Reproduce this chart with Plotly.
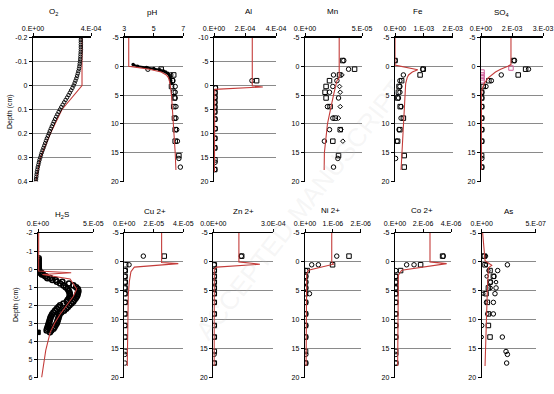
import plotly.graph_objects as go

W, H = 554, 394

# ---------------- data ----------------
# common sampling depths (cm) of the porewater samples
sq_depth = [-1, 0.5, 1.5, 2.5, 3.5, 4.5, 5.5, 7, 9, 11, 13, 15.5, 17.5]
ci_depth = [-1, 0.5, 1.5, 2.5, 3.5, 4.5, 5.5, 7, 9, 11, 13, 16, 17.5]

# O2 microprofile (x 1e-4)
o2_depth = [-0.20, -0.19, -0.18, -0.17, -0.16, -0.15, -0.14, -0.13, -0.12, -0.11,
            -0.10, -0.09, -0.08, -0.07, -0.06, -0.05, -0.04, -0.03, -0.02, -0.01,
            0.00, 0.01, 0.02, 0.03, 0.04, 0.05, 0.06, 0.07, 0.08, 0.09,
            0.10, 0.11, 0.12, 0.13, 0.14, 0.15, 0.16, 0.17, 0.18, 0.19,
            0.20, 0.21, 0.22, 0.23, 0.24, 0.25, 0.26, 0.27, 0.28, 0.29,
            0.30, 0.31, 0.32, 0.33, 0.34, 0.35, 0.36, 0.37, 0.38, 0.39, 0.40]
o2_obs = [3.30, 3.30, 3.30, 3.30, 3.30, 3.30, 3.29, 3.28, 3.27, 3.26,
          3.24, 3.22, 3.20, 3.17, 3.13, 3.09, 3.04, 2.99, 2.93, 2.87,
          2.80, 2.72, 2.63, 2.54, 2.45, 2.35, 2.25, 2.15, 2.05, 1.95,
          1.86, 1.77, 1.68, 1.60, 1.52, 1.44, 1.37, 1.30, 1.23, 1.16,
          1.10, 1.03, 0.96, 0.90, 0.84, 0.78, 0.72, 0.66, 0.60, 0.55,
          0.50, 0.45, 0.41, 0.37, 0.33, 0.30, 0.27, 0.25, 0.23, 0.21, 0.20]
o2_mod_d = [-0.2, -0.1, 0.0, 0.1, 0.2, 0.3, 0.4]
o2_mod = [3.38, 3.38, 3.38, 2.0, 1.2, 0.52, 0.2]

# pH
ph_micro_d = [-0.3, 0.0, 0.2, 0.4, 0.6, 0.8, 1.0, 1.2, 1.5, 2.0, 2.5, 3.0]
ph_micro = [3.6, 3.9, 4.5, 5.0, 5.4, 5.65, 5.8, 5.95, 6.05, 6.1, 6.15, 6.2]
ph_sq_d = [0.5, 1.5, 2.5, 3.5, 4.5, 5.5, 7, 9, 11, 13, 15.5]
ph_sq = [5.5, 6.35, 6.25, 6.2, 6.35, 6.4, 6.35, 6.4, 6.45, 6.45, 6.7]
ph_ci_d = [0.5, 1.5, 2.5, 3.5, 4.5, 5.5, 7, 9, 11, 13, 16, 17.5]
ph_ci = [4.6, 6.15, 6.3, 6.45, 6.45, 6.45, 6.5, 6.5, 6.55, 6.6, 6.7, 6.8]
ph_mod_d = [-5, 0, 0.05, 0.5, 1, 1.5, 2, 3, 5, 10, 15, 18]
ph_mod = [3.3, 3.3, 3.5, 4.7, 5.5, 5.85, 6.0, 6.1, 6.2, 6.35, 6.45, 6.5]

# Al (x 1e-4)
al_sq = [2.75, 0.08, 0.06, 0.06, 0.05, 0.05, 0.05, 0.05, 0.06, 0.05, 0.05, 0.06, 0.05]
al_ci = [2.45, 0.10, 0.07, 0.06, 0.06, 0.06, 0.05, 0.07, 0.08, 0.06, 0.06, 0.07, 0.05]
al_mod_d = [-10, 0.1, 0.3, 0.8, 18]
al_mod = [2.47, 2.47, 3.15, 0.05, 0.03]

# Mn (x 1e-5)
mn_sq = [3.3, 4.35, 3.03, 2.15, 1.85, 1.76, 1.85, 2.2, 2.65, 3.09, 2.44, 2.94, None]
mn_ci = [3.4, 3.82, 2.5, 2.8, 2.44, 2.15, 2.94, 1.97, 2.44, 2.15, 1.7, 2.88, 2.5]
mn_dm_d = [1.5, 3.5, 4.5, 7, 9, 11, 13]
mn_dm = [3.24, 3.03, 3.09, 3.09, 2.94, 3.15, 3.32]
mn_mod_d = [-5, 2, 2.5, 5, 10, 15, 18]
mn_mod = [3.0, 3.0, 2.8, 2.5, 1.97, 1.7, 1.68]

# Fe (x 1e-3)
fe_sq = [0.0, 0.98, 0.87, 0.23, 0.14, 0.12, 0.09, 0.18, 0.29, 0.17, 0.09, 0.32, 0.32]
fe_ci = [0.0, 0.96, 0.29, 0.17, 0.17, 0.17, 0.12, 0.21, 0.21, 0.14, 0.07, 0.02, None]
fe_mod_d = [-5, -0.2, 0.6, 1.0, 1.5, 2.0, 3.0, 5.0, 10, 15, 18]
fe_mod = [0.0, 0.0, 0.79, 0.6, 0.47, 0.42, 0.37, 0.35, 0.29, 0.23, 0.21]

# SO4 (x 1e-3)
so4_sq = [1.58, 2.16, 1.8, 0.38, 0.11, 0.03, 0.03, 0.03, 0.03, 0.03, 0.03, 0.03, 0.03]
so4_ci = [1.62, 2.3, 0.98, 0.5, 0.24, 0.04, 0.04, 0.04, 0.04, 0.04, 0.04, 0.04, 0.04]
so4_pink_d = [0.3, 1.0, 1.5, 2.0, 2.5]
so4_pink = [1.45, 0.05, 0.05, 0.05, 0.05]
so4_mod_d = [-5, -0.3, 0.0, 0.5, 1.0, 1.5, 2.0, 2.5, 3.0, 3.5, 4.0, 5.0, 18]
so4_mod = [1.45, 1.45, 1.3, 0.95, 0.7, 0.5, 0.35, 0.25, 0.15, 0.1, 0.05, 0.02, 0.02]

# H2S (x 1e-5)
h2s_a_d = [-0.6, -0.5, -0.4, -0.3, -0.2, -0.1, 0.0, 0.1, 0.2, 0.3, 0.4, 0.5, 0.6, 0.7,
           0.8, 0.9, 1.0, 1.1, 1.2, 1.3, 1.4, 1.5, 1.6, 1.7, 1.8, 1.9, 2.0, 2.1,
           2.2, 2.3, 2.4, 2.5, 2.6, 2.7, 2.8, 2.9, 3.0, 3.1, 3.2, 3.3, 3.4, 3.5]
h2s_a = [0.06, 0.06, 0.06, 0.06, 0.06, 0.07, 0.08, 0.1, 0.2, 0.35, 0.7, 1.1, 1.6, 2.2,
         2.8, 3.2, 3.45, 3.6, 3.65, 3.62, 3.58, 3.52, 3.42, 3.3, 3.18, 3.02, 2.85, 2.7,
         2.55, 2.35, 2.1, 1.95, 1.9, 1.85, 1.8, 1.75, 1.7, 1.6, 1.5, 1.4, 1.2, 1.08]
h2s_b_d = [0.2, 0.3, 0.4, 0.5, 0.6, 0.7, 0.8, 0.9, 1.0, 1.1, 1.2, 1.3, 1.4, 1.5, 1.6,
           1.7, 1.8, 1.9, 2.0, 2.1, 2.2, 2.3, 2.4, 2.5, 2.6, 2.7, 2.8, 2.9, 3.0, 3.1,
           3.2, 3.3, 3.4]
h2s_b = [0.3, 0.45, 0.65, 0.85, 1.3, 1.7, 2.0, 2.3, 2.5, 2.68, 2.78, 2.85, 2.88, 2.88, 2.82,
         2.7, 2.6, 2.3, 2.0, 1.85, 1.7, 1.55, 1.4, 1.28, 1.2, 1.12, 1.08, 1.03, 0.98, 0.93,
         0.88, 0.82, 0.78]
h2s_sq_d = [3.5]
h2s_sq = [0.0]
h2s_mod_d = [-2, 0.1, 0.2, 0.3, 0.55, 0.8, 1.1, 1.5, 2.0, 2.5, 3.0, 3.5, 4.5, 6.0]
h2s_mod = [0.06, 0.06, 3.0, 0.4, 2.9, 3.2, 3.5, 3.2, 2.6, 2.0, 1.5, 1.1, 0.7, 0.33]

# Cu (x 1e-5)
cu_sq = [2.71, 0.09, 0.06, 0.05, 0.06, 0.05, 0.05, 0.06, 0.05, 0.05, 0.06, 0.05, None]
cu_ci = [1.29, 0.32, 0.04, 0.04, 0.05, 0.04, 0.04, 0.05, 0.04, 0.04, 0.05, 0.04, 0.04]
cu_mod_d = [-5, 0.1, 0.3, 0.9, 1.7, 3.4, 5.7, 11.5, 18]
cu_mod = [2.53, 2.53, 3.66, 0.68, 0.45, 0.34, 0.27, 0.23, 0.2]

# Zn (x 1e-4)
zn_sq = [1.42, 0.05, 0.05, 0.05, 0.05, 0.05, 0.05, 0.05, 0.05, 0.05, 0.05, 0.05, 0.05]
zn_ci = [1.40, 0.04, 0.04, 0.04, 0.04, 0.04, 0.04, 0.04, 0.04, 0.04, 0.04, 0.04, 0.04]
zn_mod_d = [-5, 0, 0.4, 0.9, 1.2, 18]
zn_mod = [1.28, 1.28, 2.33, 0.17, 0.05, 0.04]

# Ni (x 1e-6)
ni_sq = [1.58, 0.99, 0.08, 0.02, 0.02, 0.02, 0.02, 0.02, 0.02, 0.02, 0.02, 0.02, 0.02]
ni_ci_d = [-1, 0.5, 0.5, 1.5, 2.5, 3.5, 4.5, 5.5, 7, 9, 11, 13, 16, 17.5]
ni_ci = [1.14, 0.24, 0.48, 0.03, 0.03, 0.03, 0.03, 0.16, 0.03, 0.03, 0.03, 0.03, 0.03, 0.03]
ni_mod_d = [-5, 0, 0.4, 1.45, 2.1, 18]
ni_mod = [0.96, 0.96, 1.02, 0.12, 0.06, 0.04]

# Co (x 1e-6)
co_sq = [3.4, 1.83, 0.4, 0.05, 0.05, 0.05, 0.05, 0.05, 0.05, 0.05, 0.05, 0.05, 0.05]
co_ci_d = [-1, 0.5, 0.5, 1.5, 2.5, 3.5, 4.5, 5.5, 7, 9, 11, 13, 16, 17.5]
co_ci = [3.45, 0.83, 1.36, 0.06, 0.06, 0.06, 0.06, 0.06, 0.06, 0.06, 0.06, 0.06, 0.06, 0.06]
co_mod_d = [-5, 0, 0.3, 1.45, 2.3, 18]
co_mod = [2.5, 2.5, 3.69, 0.48, 0.24, 0.19]

# As (x 1e-7)
as_sq_d = [-1, 0.5, 1.5, 2.5, 3.5, 4.5, 5.5, 7, 9, 11, 13]
as_sq = [0.25, 0.31, 0.77, 1.08, 0.77, 0.62, 0.4, 0.52, 0.62, 0.62, 0.77]
as_ci_d = [-1, 0.5, 1.5, 2.5, 3.5, 4.5, 5.5, 7, 9, 11, 13, 15.5, 16, 17.5]
as_ci = [0.15, 2.38, 1.48, 1.14, 0.83, 1.33, 1.23, 1.08, 1.08, 0.0, 1.91, 2.25, 2.38, 2.31]
as_dm_d = [-1, 0.5, 1.5, 2.5, 3.5, 4.5, 5.5, 7, 9, 13]
as_dm = [0.4, 0.4, 0.62, 0.46, 1.33, 0.83, 0.15, 0.4, 0.52, 0.0]
as_mod_d = [-5, -0.2, 0.6, 1.0, 5, 10, 18]
as_mod = [0.09, 0.31, 0.93, 0.62, 0.52, 0.42, 0.31]

# titles and tick labels
titles = ["O<sub>2</sub>", "pH", "Al", "Mn", "Fe", "SO<sub>4</sub>",
          "H<sub>2</sub>S", "Cu 2+", "Zn 2+", "Ni 2+", "Co 2+", "As"]
x_tickvals = [[0, 4e-4], [3, 5, 7], [0, 2e-4, 4e-4], [0, 5e-5], [0, 1e-3, 2e-3],
              [0, 1.5e-3, 3e-3], [0, 5e-5], [0, 2e-5, 4e-5], [0, 3e-4],
              [0, 1e-6, 2e-6], [0, 2e-6, 4e-6], [0, 5e-7]]
x_ticktext = [["0.E+00", "4.E-04"], ["3", "5", "7"], ["0.E+00", "2.E-04", "4.E-04"],
              ["0.E+00", "5.E-05"], ["0.E+00", "1.E-03", "2.E-03"],
              ["0.E+00", "2.E-03", "3.E-03"], ["0.E+00", "5.E-05"],
              ["0.E+00", "2.E-05", "4.E-05"], ["0.0E+00", "3.0E-04"],
              ["0.E+00", "1.E-06", "2.E-06"], ["0.E+00", "2.E-06", "4.E-06"],
              ["0.E+00", "5.E-07"]]
depth_ticks_std = [-5, 0, 5, 10, 15, 20]
depth_ticks_al = [-10, -5, 0, 5, 10, 15, 20]
depth_ticks_o2 = [-0.2, -0.1, 0, 0.1, 0.2, 0.3, 0.4]
depth_text_o2 = ["-0.2", "-0.1", "0", "0.1", "0.2", "0.3", "0.4"]
depth_ticks_h2s = [-2, -1, 0, 1, 2, 3, 4, 5, 6]

# ---------------- layout geometry (pixels) ----------------
R1 = (37.5, 181.5)
R2 = (233.0, 377.5)
geom = [(33, 91) + R1, (124.3, 183.3) + R1, (214, 276) + R1, (305, 362) + R1,
        (395, 452.7) + R1, (481, 543) + R1,
        (38, 93.3) + R2, (124.3, 183.3) + R2, (213.3, 273.3) + R2, (305, 360.7) + R2,
        (395, 451) + R2, (481.7, 535.7) + R2]
title_pos = [(53, 12), (152, 12.5), (248, 12), (332, 11), (418, 12), (501, 13.5),
             (62, 215.5), (155, 211), (243, 211.5), (330, 210), (422, 210), (508, 211)]

x_ranges = [[0, 4e-4], [3, 7], [0, 4e-4], [0, 5e-5], [0, 2e-3], [0, 3e-3],
            [0, 5e-5], [0, 4e-5], [0, 3e-4], [0, 2e-6], [0, 4e-6], [0, 5e-7]]

FONT = "Liberation Sans, Arial, sans-serif"
RED = "#c43c3a"
TXT = "#000000"


def blk(s):
    return f"<span style='color:#000000'>{s}</span>"


fig = go.Figure()
layout = dict(width=W, height=H, margin=dict(l=0, r=0, t=0, b=0), template="none",
              paper_bgcolor="white", plot_bgcolor="white", showlegend=False,
              font=dict(family=FONT, size=7, color=TXT))
annotations = []

for i in range(12):
    n = i + 1
    x0, x1, top, bot = geom[i]
    xk = "xaxis" if n == 1 else f"xaxis{n}"
    yk = "yaxis" if n == 1 else f"yaxis{n}"
    if i == 0:
        yt, ytt, yr = depth_ticks_o2, depth_text_o2, [0.4, -0.2]
    elif i == 2:
        yt, ytt, yr = depth_ticks_al, [str(v) for v in depth_ticks_al], [20, -10]
    elif i == 6:
        yt, ytt, yr = depth_ticks_h2s, [str(v) for v in depth_ticks_h2s], [6, -2]
    else:
        yt, ytt, yr = depth_ticks_std, [str(v) for v in depth_ticks_std], [20, -5]
    layout[xk] = dict(domain=[x0 / W, x1 / W], anchor=f"y{n}", side="top",
                      range=x_ranges[i], showline=True, linecolor="black", linewidth=1.2,
                      ticks="outside", ticklen=3, tickcolor="black", tickwidth=1,
                      tickvals=x_tickvals[i], ticktext=x_ticktext[i],
                      ticklabeloverflow="allow",
                      showgrid=False, zeroline=False,
                      tickfont=dict(size=7, color=TXT, family=FONT))
    layout[yk] = dict(domain=[1 - bot / H, 1 - top / H], anchor=f"x{n}",
                      range=yr, showline=True, linecolor="black", linewidth=1.2,
                      ticks="outside", ticklen=3, tickcolor="black", tickwidth=1,
                      tickvals=yt, ticktext=ytt, showgrid=True,
                      gridcolor="#8a8a8a", gridwidth=1, zeroline=False,
                      tickfont=dict(size=7, color=TXT, family=FONT))
    tx, ty = title_pos[i]
    annotations.append(dict(text=blk(titles[i]), x=tx / W, y=1 - ty / H, xref="paper",
                            yref="paper", showarrow=False, xanchor="center",
                            yanchor="middle", font=dict(size=8, color=TXT, family=FONT)))

annotations.append(dict(text=blk("Depth (cm)"), x=10 / W, y=1 - 112 / H, xref="paper",
                        yref="paper", showarrow=False, textangle=-90,
                        xanchor="center", yanchor="middle",
                        font=dict(size=7, color=TXT, family=FONT)))
annotations.append(dict(text=blk("Depth (cm)"), x=16 / W, y=1 - 305 / H, xref="paper",
                        yref="paper", showarrow=False, textangle=-90,
                        xanchor="center", yanchor="middle",
                        font=dict(size=7, color=TXT, family=FONT)))
# faint watermark
annotations.append(dict(text="ACCEPTED MANUSCRIPT", x=300 / W, y=1 - 210 / H,
                        xref="paper", yref="paper", showarrow=False, textangle=-52,
                        xanchor="center", yanchor="middle",
                        font=dict(size=26, color="rgba(200,200,200,0.18)", family=FONT)))
layout["annotations"] = annotations


def ax(n):
    return ("x" if n == 1 else f"x{n}"), ("y" if n == 1 else f"y{n}")


def model(n, vals, depths, scale):
    xa, ya = ax(n)
    fig.add_trace(go.Scatter(x=[v * scale for v in vals], y=depths, xaxis=xa, yaxis=ya,
                             mode="lines", line=dict(color=RED, width=1.1),
                             hoverinfo="skip"))


def pts(n, vals, depths, scale, symbol, size=4.5, color="black", lw=1.0, filled=False):
    xa, ya = ax(n)
    xs = [None if v is None else v * scale for v in vals]
    fig.add_trace(go.Scatter(x=xs, y=depths, xaxis=xa, yaxis=ya, mode="markers",
                             marker=dict(symbol=symbol if filled else symbol + "-open",
                                         size=size, color=color,
                                         line=dict(color=color, width=lw)),
                             hoverinfo="skip"))


# O2
model(1, o2_mod, o2_mod_d, 1e-4)
pts(1, o2_obs, o2_depth, 1e-4, "circle", size=3.5, lw=0.9)
# pH
pts(2, ph_sq, ph_sq_d, 1, "square")
pts(2, ph_ci, ph_ci_d, 1, "circle")
xa, ya = ax(2)
fig.add_trace(go.Scatter(x=ph_micro, y=ph_micro_d, xaxis=xa, yaxis=ya, mode="lines+markers",
                         line=dict(color="black", width=2),
                         marker=dict(symbol="circle", size=3.5, color="black"),
                         hoverinfo="skip"))
model(2, ph_mod, ph_mod_d, 1)
# Al
pts(3, al_sq, sq_depth, 1e-4, "square")
pts(3, al_ci, ci_depth, 1e-4, "circle")
model(3, al_mod, al_mod_d, 1e-4)
# Mn
pts(4, mn_sq, sq_depth, 1e-5, "square")
pts(4, mn_ci, ci_depth, 1e-5, "circle")
pts(4, mn_dm, mn_dm_d, 1e-5, "diamond", size=3.5)
model(4, mn_mod, mn_mod_d, 1e-5)
# Fe
pts(5, fe_sq, sq_depth, 1e-3, "square")
pts(5, fe_ci, ci_depth, 1e-3, "circle")
model(5, fe_mod, fe_mod_d, 1e-3)
# SO4
pts(6, so4_sq, sq_depth, 1e-3, "square")
pts(6, so4_ci, ci_depth, 1e-3, "circle")
pts(6, so4_pink, so4_pink_d, 1e-3, "square", color="#d0609a")
model(6, so4_mod, so4_mod_d, 1e-3)
# H2S
pts(7, h2s_a, h2s_a_d, 1e-5, "circle", size=5, lw=1.6)
pts(7, h2s_b, h2s_b_d, 1e-5, "circle", size=5, lw=1.6)
pts(7, h2s_sq, h2s_sq_d, 1e-5, "square", size=4.5, filled=True)
model(7, h2s_mod, h2s_mod_d, 1e-5)
# Cu
pts(8, cu_sq, sq_depth, 1e-5, "square")
pts(8, cu_ci, ci_depth, 1e-5, "circle")
model(8, cu_mod, cu_mod_d, 1e-5)
# Zn
pts(9, zn_sq, sq_depth, 1e-4, "square")
pts(9, zn_ci, ci_depth, 1e-4, "circle")
model(9, zn_mod, zn_mod_d, 1e-4)
# Ni
pts(10, ni_sq, sq_depth, 1e-6, "square")
pts(10, ni_ci, ni_ci_d, 1e-6, "circle")
model(10, ni_mod, ni_mod_d, 1e-6)
# Co
pts(11, co_sq, sq_depth, 1e-6, "square")
pts(11, co_ci, co_ci_d, 1e-6, "circle")
model(11, co_mod, co_mod_d, 1e-6)
# As
pts(12, as_sq, as_sq_d, 1e-7, "square")
pts(12, as_ci, as_ci_d, 1e-7, "circle")
pts(12, as_dm, as_dm_d, 1e-7, "circle", size=3.5)
model(12, as_mod, as_mod_d, 1e-7)

fig.update_layout(**layout)
fig.write_html("out.html", config={"displayModeBar": False, "staticPlot": True},
               post_script="document.body.style.margin='0px';")
